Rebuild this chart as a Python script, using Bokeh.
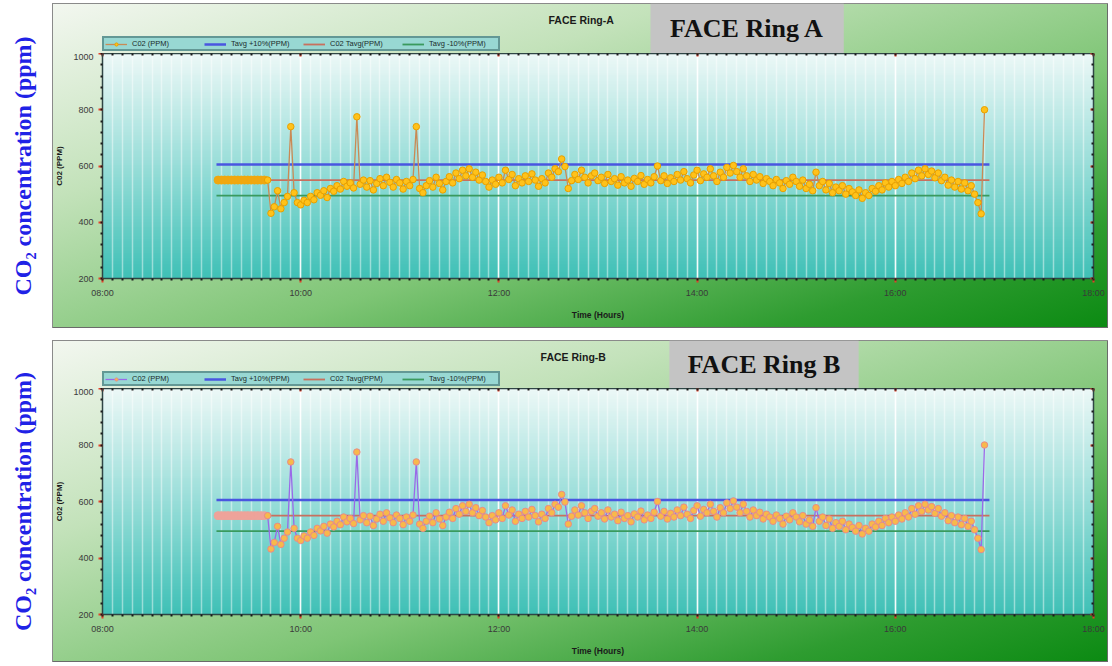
import math
import numpy as np
from bokeh.plotting import figure
from bokeh.models import (Range1d, FixedTicker, Legend, LegendItem, Label, LinearAxis,
                          BoxAnnotation, Spacer)
from bokeh.layouts import column, row
from bokeh.embed import file_html
from bokeh.resources import INLINE

# ---------------- data ----------------
x_tick_hours = [8, 10, 12, 14, 16, 18]
x_tick_labels = ["08:00", "10:00", "12:00", "14:00", "16:00", "18:00"]
y_ticks = [200, 400, 600, 800, 1000]

tavg_ppm = 550
tavg_plus_ppm = 605
tavg_minus_ppm = 495
target_start = "09:09"
target_end = "16:57"

# holding period before release (logged at target)
pre_start_times = ["09:10", "09:12", "09:14", "09:16", "09:18", "09:20", "09:22", "09:24",
                   "09:26", "09:28", "09:30", "09:32", "09:34", "09:36", "09:38"]
pre_start_ppm = [550, 550, 550, 550, 550, 550, 550, 550, 550, 550, 550, 550, 550, 550, 550]

# CO2 record, one reading every 2 minutes starting 09:40
series_start = "09:40"
sample_step_min = 2
co2_ring_a = [
    550, 432, 455, 512, 448, 470, 492, 740, 505, 470,
    462, 478, 470, 492, 480, 505, 496, 512, 488, 520, 510, 530, 518, 545, 528,
    540, 522, 775, 535, 550, 525, 548, 515, 538, 555, 530, 560, 542, 525, 552,
    540, 518, 545, 530, 552, 740, 520, 505, 530, 548, 525, 560, 538, 515, 545,
    562, 540, 575, 555, 585, 565, 590, 560, 578, 550, 568, 545, 525, 550, 535,
    560, 540, 585, 552, 570, 530, 555, 540, 565, 545, 572, 550, 528, 555, 540,
    575, 560, 590, 580, 625, 598, 520, 548, 570, 552, 585, 560, 540, 565, 575,
    548, 560, 538, 570, 545, 555, 532, 562, 540, 550, 528, 556, 545, 566, 535,
    552, 540, 562, 600, 548, 565, 538, 558, 545, 570, 550, 580, 555, 540, 568,
    585, 548, 572, 560, 590, 565, 545, 578, 560, 595, 575, 602, 580, 560, 590,
    565, 545, 570, 550, 562, 538, 555, 545, 530, 552, 540, 520, 548, 535, 560,
    545, 528, 550, 520, 535, 512, 578, 530, 545, 515, 538, 505, 525, 512, 530,
    500, 520, 508, 495, 515, 485, 505, 495, 520, 510, 530, 515, 540, 525, 545,
    530, 552, 538, 560, 545, 575, 555, 585, 565, 590, 570, 582, 558, 575, 548,
    560, 532, 550, 525, 545, 518, 540, 512, 530, 500, 470, 430, 800,
]
co2_ring_b = list(co2_ring_a)

legend_labels = ["C02 (PPM)", "Tavg +10%(PPM)", "C02 Tavg(PPM)", "Tavg -10%(PPM)"]


def hhmm(s):
    h, m = s.split(":")
    return int(h) + int(m) / 60.0


t0 = hhmm(series_start)
times = [t0 + i * sample_step_min / 60.0 for i in range(len(co2_ring_a))]
pre_times = [hhmm(s) for s in pre_start_times]
t_line = [hhmm(target_start), hhmm(target_end)]

FONT = "Liberation Sans"
PANEL_W = 1056
BORDER_L = 49
BORDER_R = 15
GRAD = ("linear-gradient(to bottom right, #f3f7f0 0%, #c3e2ba 30%, #7ec575 60%, "
        "#2e9c30 84%, #0b8a12 100%)")

C_PLUS = "#4a56e0"
C_AVG = "#c8705e"
C_MINUS = "#3a9a5e"


def gradient_image():
    n = 80
    img = np.empty((n, 1), dtype=np.uint32)
    view = img.view(dtype=np.uint8).reshape((n, 1, 4))
    top = np.array([236, 248, 247], dtype=float)
    mid = np.array([152, 222, 217], dtype=float)
    bot = np.array([64, 193, 183], dtype=float)
    for i in range(n):
        f = i / (n - 1)  # 0 bottom, 1 top
        if f < 0.5:
            c = bot + (mid - bot) * (f / 0.5)
        else:
            c = mid + (top - mid) * ((f - 0.5) / 0.5)
        view[i, 0, :3] = c.astype(np.uint8)
        view[i, 0, 3] = 255
    return img


def bg_style(panel_h, offset, shadow):
    return {
        "background-image": GRAD,
        "background-size": f"{PANEL_W}px {panel_h}px",
        "background-position": f"0px {-offset}px",
        "background-repeat": "no-repeat",
        "box-shadow": shadow,
    }


def make_header(panel_h, head_h, title_txt, title_x, box_txt, box_l, box_r,
                line_col, mk_fill, mk_line):
    h = figure(width=PANEL_W, height=head_h, x_range=Range1d(8, 18), y_range=Range1d(0, head_h),
               output_backend="svg", toolbar_location=None,
               min_border_left=BORDER_L, min_border_right=BORDER_R,
               min_border_top=0, min_border_bottom=0,
               x_axis_location=None, y_axis_location=None)
    h.grid.visible = False
    h.outline_line_color = None
    h.border_fill_color = None
    h.background_fill_color = None
    h.styles = bg_style(panel_h, 0, "inset 1px 1px 0 #8a8a8a, inset -1px 0 0 #6a6a6a")

    # legend swatches: renderers whose single point lies outside the visible range
    r1 = h.line([0], [-50], line_color=line_col, line_width=1.3)
    r1b = h.scatter([0], [-50], size=6, fill_color=mk_fill, line_color=mk_line)
    r2 = h.line([0], [-50], line_color=C_PLUS, line_width=2.5)
    r3 = h.line([0], [-50], line_color=C_AVG, line_width=1.8)
    r4 = h.line([0], [-50], line_color=C_MINUS, line_width=1.8)
    legend = Legend(items=[
        LegendItem(label=legend_labels[0], renderers=[r1, r1b]),
        LegendItem(label=legend_labels[1], renderers=[r2]),
        LegendItem(label=legend_labels[2], renderers=[r3]),
        LegendItem(label=legend_labels[3], renderers=[r4]),
    ], orientation="horizontal", location=(0, 2))
    legend.background_fill_color = "#98d8d3"
    legend.background_fill_alpha = 1
    legend.border_line_color = "#2d5858"
    legend.border_line_width = 2
    legend.label_text_font = FONT
    legend.label_text_font_size = "7.5px"
    legend.label_text_color = "#1a2a2a"
    legend.label_height = 8
    legend.label_width = 68
    legend.glyph_height = 8
    legend.glyph_width = 22
    legend.label_standoff = 5
    legend.spacing = 4
    legend.padding = 1
    legend.margin = 0
    h.add_layout(legend, "center")

    h.add_layout(Label(x=title_x, y=head_h - 16, text=title_txt, text_font=FONT,
                       text_font_size="10.5px", text_font_style="bold", text_color="#1a1a1a",
                       text_align="center", text_baseline="middle"))
    h.add_layout(BoxAnnotation(left=box_l, right=box_r, bottom=0, top=head_h,
                               fill_color="#c4c4c4", fill_alpha=1, line_color=None))
    h.add_layout(Label(x=(box_l + box_r) / 2, y=head_h / 2, text=box_txt,
                       text_font="Liberation Serif", text_font_size="26px", text_font_style="bold",
                       text_color="#111111", text_align="center", text_baseline="middle"))
    return h


def make_main(values, panel_h, head_h, main_h, bottom_border, line_col, mk_fill, mk_line, band_col):
    p = figure(width=PANEL_W, height=main_h, x_range=Range1d(8, 18), y_range=Range1d(200, 1000),
               output_backend="svg", toolbar_location=None,
               min_border_left=BORDER_L, min_border_right=BORDER_R, min_border_top=0,
               min_border_bottom=bottom_border)
    p.border_fill_color = None
    p.background_fill_color = None
    p.outline_line_color = "#3f5f5f"
    p.styles = bg_style(panel_h, head_h,
                        "inset 1px 0 0 #8a8a8a, inset -1px -1px 0 #6a6a6a")

    bg = p.image_rgba(image=[gradient_image()], x=8, y=200, dw=10, dh=800)
    bg.level = "image"

    xt = FixedTicker(ticks=x_tick_hours, minor_ticks=[round(8 + 0.1 * i, 2) for i in range(101)])
    yt = FixedTicker(ticks=y_ticks, minor_ticks=[200 + 40 * i for i in range(21)])
    xax = p.below[0]
    yax = p.left[0]
    xax.ticker = xt
    yax.ticker = yt
    p.xgrid.ticker = xt
    p.xgrid.grid_line_color = "white"
    p.xgrid.grid_line_alpha = 0.9
    p.xgrid.grid_line_width = 1.5
    p.xgrid.minor_grid_line_color = "white"
    p.xgrid.minor_grid_line_alpha = 0.45
    p.xgrid.minor_grid_line_width = 1.5
    p.ygrid.visible = False

    xax.major_label_overrides = {h: l for h, l in zip(x_tick_hours, x_tick_labels)}
    xax.axis_label = "Time (Hours)"
    yax.axis_label = "C02 (PPM)"

    rax = LinearAxis(ticker=yt, major_label_overrides={t: "" for t in y_ticks},
                     major_label_standoff=0)
    p.add_layout(rax, "right")
    tax = LinearAxis(ticker=xt, major_label_overrides={t: "" for t in x_tick_hours},
                     major_label_standoff=0)
    p.add_layout(tax, "above")

    for ax in [xax, yax, rax, tax]:
        ax.axis_line_color = "#2f4545"
        ax.axis_line_width = 1.5
        ax.major_tick_line_color = "#e0402a"
        ax.major_tick_line_width = 2
        ax.major_tick_out = 4
        ax.major_tick_in = 0
        ax.minor_tick_line_color = "#1a1a1a"
        ax.minor_tick_line_width = 2
        ax.minor_tick_out = 2
        ax.minor_tick_in = 0
        ax.major_label_text_font = FONT
        ax.major_label_text_color = "#3a3a3a"
        ax.axis_label_text_font = FONT
        ax.axis_label_text_font_style = "bold"
        ax.axis_label_text_color = "#1a1a1a"
    for ax in [rax, tax]:
        ax.major_tick_out = 0
        ax.minor_tick_out = 0
        ax.major_tick_in = 3
        ax.minor_tick_in = 2
        ax.major_label_text_alpha = 0
    xax.major_label_text_font_size = "9px"
    yax.major_label_text_font_size = "9px"
    xax.axis_label_text_font_size = "8.5px"
    yax.axis_label_text_font_size = "8px"
    xax.major_label_standoff = 5
    xax.axis_label_standoff = 9
    yax.major_label_standoff = 5
    yax.axis_label_standoff = 6

    p.line(t_line, [tavg_plus_ppm, tavg_plus_ppm], line_color=C_PLUS, line_width=2.5)
    p.line(t_line, [tavg_ppm, tavg_ppm], line_color=C_AVG, line_width=1.8)
    p.line(t_line, [tavg_minus_ppm, tavg_minus_ppm], line_color=C_MINUS, line_width=1.8)

    p.scatter(pre_times, pre_start_ppm, size=8, fill_color=band_col, line_color=band_col)
    p.line(times, values, line_color=line_col, line_width=1.3)
    p.scatter(times, values, size=6.5, fill_color=mk_fill, line_color=mk_line, line_width=1)
    return p


def make_side_label(hgt):
    f = figure(width=52, height=hgt, x_range=Range1d(0, 1), y_range=Range1d(0, 1),
               output_backend="svg", toolbar_location=None, min_border=0,
               x_axis_location=None, y_axis_location=None)
    f.grid.visible = False
    f.outline_line_color = None
    f.add_layout(Label(x=0.44, y=0.5, angle=math.pi / 2, text="CO\u2082 concentration (ppm)",
                       text_font="Liberation Serif", text_font_size="24px", text_font_style="bold",
                       text_color="#1f22e6", text_align="center", text_baseline="middle"))
    return f


def make_panel(values, panel_h, head_h, bottom_border, title_txt, title_x, box_txt, box_l, box_r,
               line_col, mk_fill, mk_line, band_col):
    main_h = panel_h - head_h
    head = make_header(panel_h, head_h, title_txt, title_x, box_txt, box_l, box_r,
                       line_col, mk_fill, mk_line)
    main = make_main(values, panel_h, head_h, main_h, bottom_border, line_col, mk_fill, mk_line,
                     band_col)
    return row(make_side_label(panel_h), column(head, main))


panelA = make_panel(co2_ring_a, 325, 50, 50, "FACE Ring-A", 12.83, "FACE Ring A", 13.53, 15.48,
                    "#c98a55", "#ffc21a", "#e8a000", "#f0a810")
panelB = make_panel(co2_ring_b, 322, 48, 48, "FACE Ring-B", 12.75, "FACE Ring B", 13.72, 15.63,
                    "#9a6ae8", "#f8b94a", "#e88a8a", "#eea39a")

layout = column(Spacer(width=10, height=3), panelA, Spacer(width=10, height=12), panelB)

open("out.html", "w").write(file_html(layout, INLINE, "FACE CO2"))
